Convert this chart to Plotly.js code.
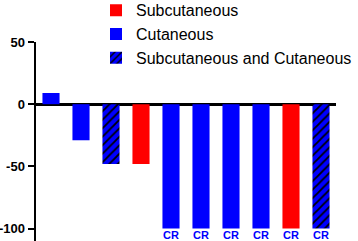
<!DOCTYPE html>
<html><head><meta charset="utf-8">
<script src="https://cdn.plot.ly/plotly-3.0.1.min.js"></script>
<style>html,body{margin:0;padding:0;background:#fff}</style>
</head><body><div id="chart" style="width:358px;height:241px"></div>
<script>
const patients = [1,2,3,4,5,6,7,8,9,10];
const subcutX = [4, 9];
const subcutY = [-48, -100];
const cutX = [1, 2, 5, 6, 7, 8];
const cutY = [9, -29, -100, -100, -100, -100];
const bothX = [3, 10];
const bothY = [-48, -100];
const crPatients = [5, 6, 7, 8, 9, 10];
const crValues = [-100, -100, -100, -100, -100, -100];
const yTicks = [50, 0, -50, -100];

const W = 0.57;
const traces = [
  {type:'bar', name:'Subcutaneous', x:subcutX, y:subcutY, width:W, legendgroup:'a',
   marker:{color:'#ff0000', line:{width:0}}},
  {type:'bar', name:'Cutaneous', x:cutX, y:cutY, width:W, legendgroup:'b',
   marker:{color:'#0000ff', line:{width:0}}},
  {type:'bar', name:'Subcutaneous and Cutaneous', x:bothX, y:bothY, width:W, legendgroup:'c',
   marker:{color:'#0000ff', line:{width:0},
     pattern:{shape:'/', fgcolor:'#000000', bgcolor:'#0000ff', size:6, solidity:0.3}}}
];

const annotations = crPatients.map((p,i)=>({
  x:p, y:crValues[i], xref:'x', yref:'y', text:'CR', showarrow:false,
  yshift:-6, font:{family:'Liberation Sans, Arial, sans-serif', size:11, color:'#0000ff', weight:'bold'}
}));

const layout = {
  width:358, height:241,
  margin:{l:36, r:22, t:42, b:0, autoexpand:false},
  paper_bgcolor:'#fff', plot_bgcolor:'#fff',
  barmode:'overlay',
  showlegend:true,
  legend:{x:0.2, xanchor:'left', yref:'paper', y:1.245, yanchor:'top', bgcolor:'rgba(0,0,0,0)',
    font:{family:'Liberation Sans, Arial, sans-serif', size:16, color:'#000'},
    tracegroupgap:5, traceorder:'normal'},
  xaxis:{range:[0.5,10.5], showgrid:false, zeroline:false, showline:false,
    showticklabels:false, ticks:''},
  yaxis:{range:[-110,50], tickvals:yTicks, ticktext:yTicks.map(String),
    showgrid:false, zeroline:true, zerolinecolor:'#000', zerolinewidth:3,
    showline:true, linecolor:'#000', linewidth:2.5,
    ticks:'outside', ticklen:6, tickwidth:2, tickcolor:'#000',
    tickfont:{family:'Liberation Sans, Arial, sans-serif', size:13, color:'#000', weight:'bold'}},
  annotations:annotations
};
Plotly.newPlot('chart', traces, layout, {staticPlot:true, displayModeBar:false});
</script></body></html>
